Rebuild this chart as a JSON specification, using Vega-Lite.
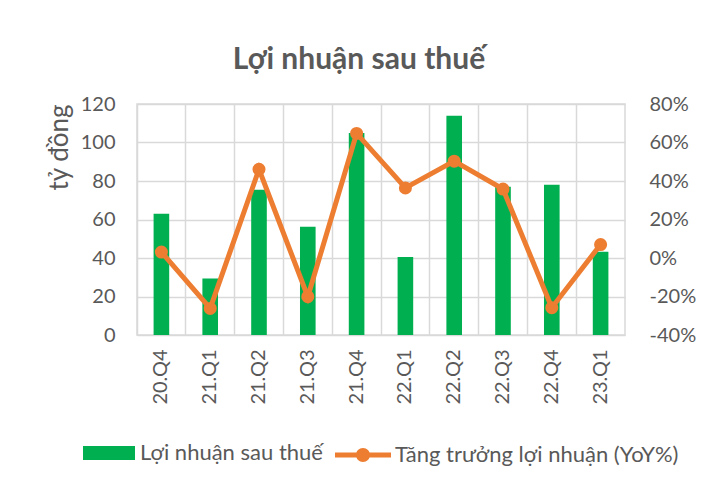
{
  "$schema": "https://vega.github.io/schema/vega-lite/v6.json",
  "width": 488,
  "height": 231,
  "padding": {"left": 46, "top": 45, "right": 10, "bottom": 5},
  "background": "white",
  "config": {
    "font": "Lato",
    "view": {"stroke": "#d9d9d9", "strokeWidth": 1.5},
    "axis": {"labelFont": "Lato", "labelFontSize": 20, "labelColor": "#595959", "gridColor": "#d9d9d9", "gridWidth": 1.5, "domain": false, "ticks": false, "labelOverlap": false},
    "legend": {"labelFont": "Lato", "labelFontSize": 22, "labelColor": "#595959", "labelLimit": 0,
      "layout": {"bottom": {"anchor": "middle", "direction": "horizontal", "margin": 12}}}
  },
  "title": {"text": "Lợi nhuận sau thuế", "fontSize": 30, "font": "Lato", "fontWeight": "bold", "color": "#595959", "offset": 19, "dx": -22},
  "data": {
    "values": [
      {"q": "20.Q4", "profit": 63, "yoy": 0.031},
      {"q": "21.Q1", "profit": 29.3, "yoy": -0.262},
      {"q": "21.Q2", "profit": 75.4, "yoy": 0.461},
      {"q": "21.Q3", "profit": 56.2, "yoy": -0.201},
      {"q": "21.Q4", "profit": 105, "yoy": 0.647},
      {"q": "22.Q1", "profit": 40.5, "yoy": 0.364},
      {"q": "22.Q2", "profit": 113.9, "yoy": 0.503},
      {"q": "22.Q3", "profit": 77, "yoy": 0.358},
      {"q": "22.Q4", "profit": 78, "yoy": -0.258},
      {"q": "23.Q1", "profit": 43.3, "yoy": 0.07}
    ]
  },
  "encoding": {
    "x": {
      "field": "q", "type": "nominal", "sort": null, "title": null,
      "scale": {"paddingInner": 0, "paddingOuter": 0},
      "axis": {"labelAngle": -90, "labelPadding": 14, "grid": true, "bandPosition": 0}
    }
  },
  "layer": [
    {
      "mark": {"type": "bar", "width": {"band": 0.32}},
      "encoding": {
        "y": {"field": "profit", "type": "quantitative", "title": "tỷ đồng",
          "scale": {"domain": [0, 120]},
          "axis": {"values": [0, 20, 40, 60, 80, 100, 120], "labelOverlap": false, "titleFontSize": 26, "titleFont": "Lato", "titleFontWeight": "normal", "titleColor": "#595959", "titleAnchor": "end", "labelPadding": 22, "titlePadding": 8}},
        "fill": {"datum": "Lợi nhuận sau thuế", "type": "nominal",
          "scale": {"range": ["#00B050"]},
          "legend": {"title": null, "orient": "bottom", "symbolType": "M-1,-0.27H1V0.27H-1Z", "symbolSize": 2704, "symbolStrokeWidth": 0, "labelOffset": 5, "labelLimit": 0, "padding": 0, "offset": 22}}
      }
    },
    {
      "layer": [
        {
          "mark": {"type": "line", "strokeWidth": 5},
          "encoding": {
            "y": {"field": "yoy", "type": "quantitative", "title": null,
              "scale": {"domain": [-0.4, 0.8]},
              "axis": {"values": [-0.4, -0.2, 0, 0.2, 0.4, 0.6, 0.8], "labelOverlap": false, "labelExpr": "replace(format(datum.value, '.0%'), '\u2212', '-')", "grid": false, "labelPadding": 24}},
            "stroke": {"datum": "Tăng trưởng lợi nhuận (YoY%)", "type": "nominal",
              "scale": {"range": ["#ED7D31"]},
              "legend": {"title": null, "orient": "bottom", "symbolType": "M-1,-0.09H1V0.09H-1Z M0.25,0A0.25,0.25 0 1,1 -0.25,0A0.25,0.25 0 1,1 0.25,0Z", "symbolSize": 3136, "symbolFillColor": "#ED7D31", "symbolStrokeWidth": 0, "labelOffset": 4, "labelLimit": 0, "padding": 0, "offset": 22}}
          }
        },
        {
          "mark": {"type": "point", "filled": true, "size": 170, "color": "#ED7D31", "opacity": 1},
          "encoding": {
            "y": {"field": "yoy", "type": "quantitative", "axis": {"values": [-0.4, -0.2, 0, 0.2, 0.4, 0.6, 0.8], "labelOverlap": false, "labelExpr": "replace(format(datum.value, '.0%'), '\u2212', '-')", "grid": false, "labelPadding": 24}}
          }
        }
      ]
    }
  ],
  "resolve": {"scale": {"y": "independent", "fill": "independent", "stroke": "independent"}}
}
